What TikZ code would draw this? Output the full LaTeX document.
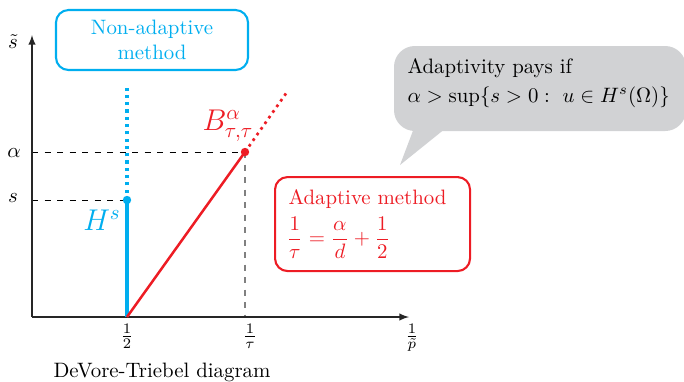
\documentclass[tikz,border=0pt]{standalone}
\usepackage{amsmath}
\definecolor{myblue}{RGB}{0,174,239}
\definecolor{myred}{RGB}{237,28,36}
\definecolor{mygray}{RGB}{209,210,212}
\begin{document}
\begin{tikzpicture}[x=0.48pt,y=-0.48pt,
  axis/.style={draw=black!85,line width=0.6pt,-latex},
  guide/.style={draw=black,dashed,line width=0.4pt},
  blueline/.style={draw=myblue,line width=1.6pt},
  redline/.style={draw=myred,line width=1.2pt},
  bluebox/.style={draw=myblue,line width=1pt,rounded corners=6pt,text=myblue,align=center},
  redbox/.style={draw=myred,line width=1pt,rounded corners=6pt,text=myred,align=left},
  lbl/.style={inner sep=1pt}]
\useasboundingbox (0,0) rectangle (684,381);
% points
\coordinate (O) at (32,317);
\coordinate (Ytop) at (32,35);
\coordinate (Xend) at (409,317);
\coordinate (Half) at (127,317);
\coordinate (Tau) at (245,317);
\coordinate (S) at (127,200);
\coordinate (A) at (245,152);
\coordinate (Sax) at (32,200);
\coordinate (Aax) at (32,152);
\coordinate (Btop) at (287,92);
\coordinate (Htop) at (127,88);
% guides
\draw[guide] (Aax) -- (A);
\draw[guide] (Sax) -- (S);
\draw[dashed,draw=black!50,line width=0.6pt] (A) -- (Tau);
% axes
\draw[axis] (O) -- (Ytop);
\draw[axis] (O) -- (Xend);
% blue
\draw[blueline] (Half) -- (S);
\draw[myblue,line width=1.5pt,dotted] (S) -- (Htop);
\fill[myblue] (S) circle (4.2);
% red
\draw[redline] (Half) -- (A);
\draw[myred,line width=1.3pt,dotted] (A) -- (Btop);
\fill[myred] (A) circle (4.2);
% labels
\node[lbl] (stl) at (13,42) {$\tilde{s}$};
\node[lbl] (al) at (14,153) {$\alpha$};
\node[lbl] (sl) at (13,198) {$s$};
\node[lbl] (xh) at (127,336) {$\frac{1}{2}$};
\node[lbl] (xt) at (250,336) {$\frac{1}{\tau}$};
\node[lbl] (xp) at (412,338) {$\frac{1}{\tilde{p}}$};
\node[lbl,text=myblue] (Hs) at (102,220) {\Large $H^s$};
\node[inner sep=0pt,text=myred] (Bl) at (228,126) {\Large $B^{\alpha}_{\tau,\tau}$};
\node[lbl] (cap) at (162,372) {DeVore-Triebel diagram};
% boxes
\node[bluebox,minimum width=192*0.48pt,minimum height=60*0.48pt] (nab) at (152,40) {Non-adaptive\\method};
\node[redbox,minimum width=195*0.48pt,minimum height=94*0.48pt,anchor=north west,inner sep=0pt] (ab) at (274,176) {};
\node[lbl,text=myred,anchor=west] (abt) at (286,199) {Adaptive method};
\node[lbl,text=myred,anchor=west] (abe) at (284,238) {$\dfrac{1}{\tau}=\dfrac{\alpha}{d}+\dfrac{1}{2}$};
% callout
\fill[mygray,rounded corners=10pt] (394,46) rectangle (686,131);
\fill[mygray] (414,128) -- (446,128) -- (400,165) -- cycle;
\node[lbl,anchor=west] (ct1) at (405,68) {Adaptivity pays if};
\node[lbl,anchor=west] (ct2) at (405,97) {$\alpha>\sup\{s>0:\ u\in H^s(\Omega)\}$};
\end{tikzpicture}
\end{document}
